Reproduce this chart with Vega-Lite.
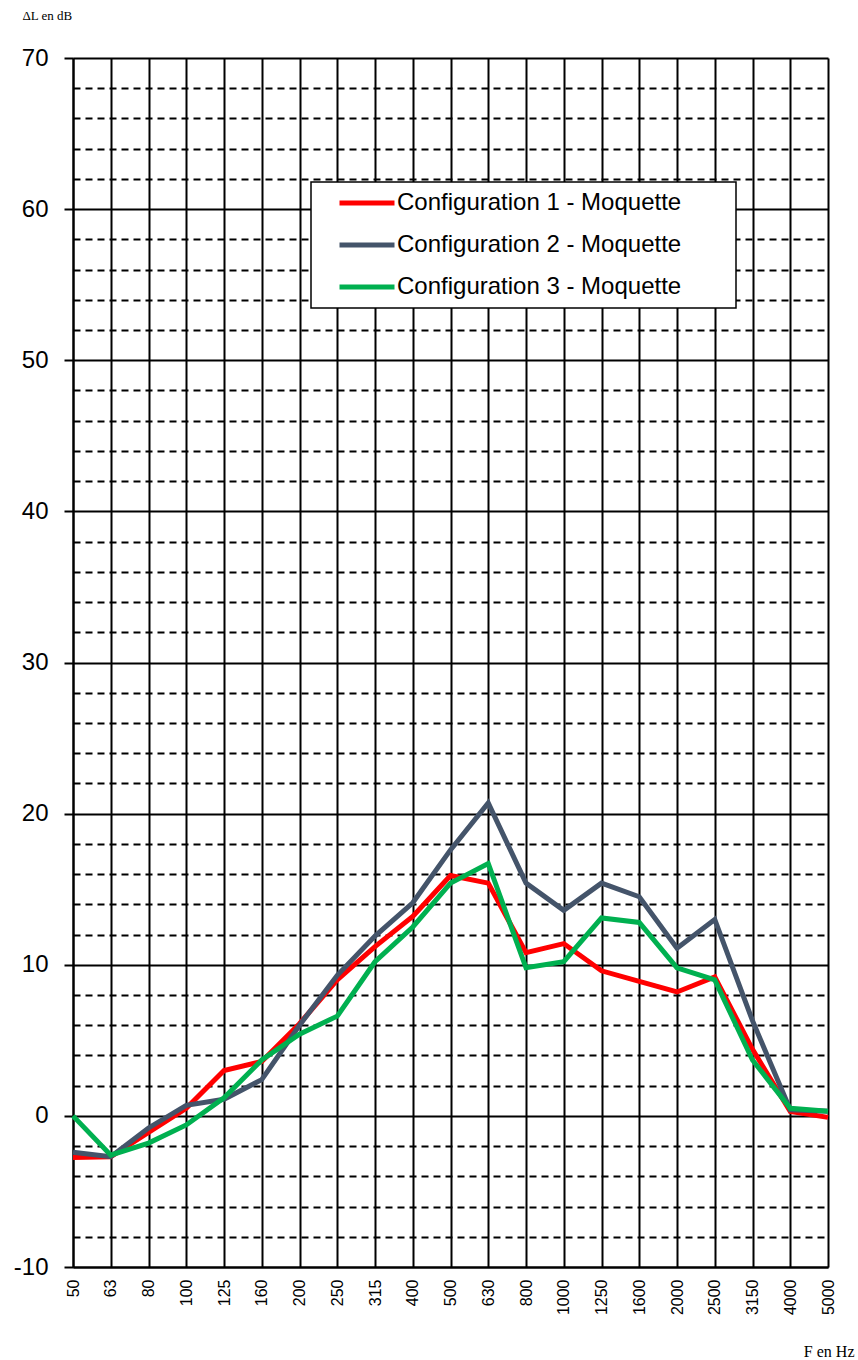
{
  "$schema": "https://vega.github.io/schema/vega-lite/v6.json",
  "width": 755,
  "height": 1209,
  "autosize": {"type": "none"},
  "padding": {"left": 73, "top": 58, "right": 30, "bottom": 93},
  "background": "white",
  "config": {
    "view": {"stroke": null},
    "font": "Liberation Sans"
  },
  "data": {
    "values": [
      {"f": "50", "c": "Configuration 1 - Moquette", "v": -2.75},
      {"f": "63", "c": "Configuration 1 - Moquette", "v": -2.7},
      {"f": "80", "c": "Configuration 1 - Moquette", "v": -1.1},
      {"f": "100", "c": "Configuration 1 - Moquette", "v": 0.5},
      {"f": "125", "c": "Configuration 1 - Moquette", "v": 3.0},
      {"f": "160", "c": "Configuration 1 - Moquette", "v": 3.6},
      {"f": "200", "c": "Configuration 1 - Moquette", "v": 6.1},
      {"f": "250", "c": "Configuration 1 - Moquette", "v": 9.0},
      {"f": "315", "c": "Configuration 1 - Moquette", "v": 11.2},
      {"f": "400", "c": "Configuration 1 - Moquette", "v": 13.2},
      {"f": "500", "c": "Configuration 1 - Moquette", "v": 15.9},
      {"f": "630", "c": "Configuration 1 - Moquette", "v": 15.4},
      {"f": "800", "c": "Configuration 1 - Moquette", "v": 10.8},
      {"f": "1000", "c": "Configuration 1 - Moquette", "v": 11.4},
      {"f": "1250", "c": "Configuration 1 - Moquette", "v": 9.6},
      {"f": "1600", "c": "Configuration 1 - Moquette", "v": 8.9},
      {"f": "2000", "c": "Configuration 1 - Moquette", "v": 8.2},
      {"f": "2500", "c": "Configuration 1 - Moquette", "v": 9.2},
      {"f": "3150", "c": "Configuration 1 - Moquette", "v": 4.4},
      {"f": "4000", "c": "Configuration 1 - Moquette", "v": 0.3},
      {"f": "5000", "c": "Configuration 1 - Moquette", "v": -0.1},
      {"f": "50", "c": "Configuration 2 - Moquette", "v": -2.4},
      {"f": "63", "c": "Configuration 2 - Moquette", "v": -2.7},
      {"f": "80", "c": "Configuration 2 - Moquette", "v": -0.8},
      {"f": "100", "c": "Configuration 2 - Moquette", "v": 0.7},
      {"f": "125", "c": "Configuration 2 - Moquette", "v": 1.1},
      {"f": "160", "c": "Configuration 2 - Moquette", "v": 2.4},
      {"f": "200", "c": "Configuration 2 - Moquette", "v": 6.0},
      {"f": "250", "c": "Configuration 2 - Moquette", "v": 9.3},
      {"f": "315", "c": "Configuration 2 - Moquette", "v": 11.9},
      {"f": "400", "c": "Configuration 2 - Moquette", "v": 14.1},
      {"f": "500", "c": "Configuration 2 - Moquette", "v": 17.6},
      {"f": "630", "c": "Configuration 2 - Moquette", "v": 20.7},
      {"f": "800", "c": "Configuration 2 - Moquette", "v": 15.4},
      {"f": "1000", "c": "Configuration 2 - Moquette", "v": 13.6},
      {"f": "1250", "c": "Configuration 2 - Moquette", "v": 15.4},
      {"f": "1600", "c": "Configuration 2 - Moquette", "v": 14.5},
      {"f": "2000", "c": "Configuration 2 - Moquette", "v": 11.1},
      {"f": "2500", "c": "Configuration 2 - Moquette", "v": 13.0},
      {"f": "3150", "c": "Configuration 2 - Moquette", "v": 6.3},
      {"f": "4000", "c": "Configuration 2 - Moquette", "v": 0.4},
      {"f": "5000", "c": "Configuration 2 - Moquette", "v": 0.3},
      {"f": "50", "c": "Configuration 3 - Moquette", "v": 0.0},
      {"f": "63", "c": "Configuration 3 - Moquette", "v": -2.6},
      {"f": "80", "c": "Configuration 3 - Moquette", "v": -1.8},
      {"f": "100", "c": "Configuration 3 - Moquette", "v": -0.6},
      {"f": "125", "c": "Configuration 3 - Moquette", "v": 1.2},
      {"f": "160", "c": "Configuration 3 - Moquette", "v": 3.7},
      {"f": "200", "c": "Configuration 3 - Moquette", "v": 5.4},
      {"f": "250", "c": "Configuration 3 - Moquette", "v": 6.6},
      {"f": "315", "c": "Configuration 3 - Moquette", "v": 10.2},
      {"f": "400", "c": "Configuration 3 - Moquette", "v": 12.5},
      {"f": "500", "c": "Configuration 3 - Moquette", "v": 15.4},
      {"f": "630", "c": "Configuration 3 - Moquette", "v": 16.7},
      {"f": "800", "c": "Configuration 3 - Moquette", "v": 9.8},
      {"f": "1000", "c": "Configuration 3 - Moquette", "v": 10.2},
      {"f": "1250", "c": "Configuration 3 - Moquette", "v": 13.1},
      {"f": "1600", "c": "Configuration 3 - Moquette", "v": 12.8},
      {"f": "2000", "c": "Configuration 3 - Moquette", "v": 9.8},
      {"f": "2500", "c": "Configuration 3 - Moquette", "v": 9.0},
      {"f": "3150", "c": "Configuration 3 - Moquette", "v": 3.7},
      {"f": "4000", "c": "Configuration 3 - Moquette", "v": 0.5},
      {"f": "5000", "c": "Configuration 3 - Moquette", "v": 0.3}
    ]
  },
  "mark": {"type": "line", "strokeWidth": 5, "strokeJoin": "miter", "strokeCap": "butt"},
  "encoding": {
    "x": {
      "field": "f",
      "type": "ordinal",
      "sort": null,
      "scale": {"type": "point", "padding": 0},
      "axis": {
        "title": "F en Hz",
        "titleFont": "Liberation Serif",
        "titleFontSize": 16,
        "titleFontWeight": "normal",
        "titleColor": "black",
        "titleAlign": "right",
        "titleAnchor": null,
        "titleX": 781,
        "titleY": 84,
        "titleBaseline": "middle",
        "labelAngle": -90,
        "labelFontSize": 16,
        "labelColor": "black",
        "labelPadding": 12,
        "ticks": false,
        "domain": true,
        "domainColor": "black",
        "domainWidth": 2,
        "grid": true,
        "gridColor": "black",
        "gridWidth": 2,
        "gridOpacity": 1
      }
    },
    "y": {
      "field": "v",
      "type": "quantitative",
      "scale": {"domain": [-10, 70], "nice": false, "zero": false},
      "axis": {
        "title": "ΔL en dB",
        "titleFont": "Liberation Serif",
        "titleFontSize": 13,
        "titleFontWeight": "normal",
        "titleColor": "black",
        "titleAngle": 0,
        "titleAlign": "left",
        "titleBaseline": "middle",
        "titleAnchor": null,
        "titleX": -51,
        "titleY": -43,
        "values": [-10, -8, -6, -4, -2, 0, 2, 4, 6, 8, 10, 12, 14, 16, 18, 20, 22, 24, 26, 28, 30, 32, 34, 36, 38, 40, 42, 44, 46, 48, 50, 52, 54, 56, 58, 60, 62, 64, 66, 68, 70],
        "labelExpr": "datum.value % 10 === 0 ? '' + datum.value : ''",
        "labelFontSize": 24,
        "labelColor": "black",
        "labelPadding": 16,
        "tickSize": 9,
        "tickColor": "black",
        "tickWidth": 2,
        "tickOpacity": {"condition": {"test": "datum.value % 10 === 0", "value": 1}, "value": 0},
        "domain": true,
        "domainColor": "black",
        "domainWidth": 2,
        "grid": true,
        "gridColor": "black",
        "gridWidth": 2,
        "gridOpacity": 1,
        "gridDash": {"condition": {"test": "datum.value % 10 === 0", "value": []}, "value": [7, 5]}
      }
    },
    "color": {
      "field": "c",
      "type": "nominal",
      "scale": {
        "domain": ["Configuration 1 - Moquette", "Configuration 2 - Moquette", "Configuration 3 - Moquette"],
        "range": ["#FF0000", "#44546A", "#00B050"]
      },
      "legend": {
        "title": null,
        "orient": "none",
        "legendX": 238,
        "legendY": 124,
        "padding": 8,
        "fillColor": "white",
        "strokeColor": "black",
        "symbolType": "stroke",
        "symbolSize": 3025,
        "symbolStrokeWidth": 5,
        "symbolOffset": 18,
        "labelFontSize": 24,
        "labelColor": "black",
        "labelLimit": 600,
        "labelOffset": 0,
        "labelExpr": "datum.label + '\u00a0\u00a0\u00a0\u00a0\u00a0\u00a0\u00a0\u200b'",
        "clipHeight": 26,
        "rowPadding": 16,
        "encode": {"legend": {"update": {"strokeWidth": {"value": 1.5}}}}
      }
    },
    "order": {"field": "c"}
  }
}
